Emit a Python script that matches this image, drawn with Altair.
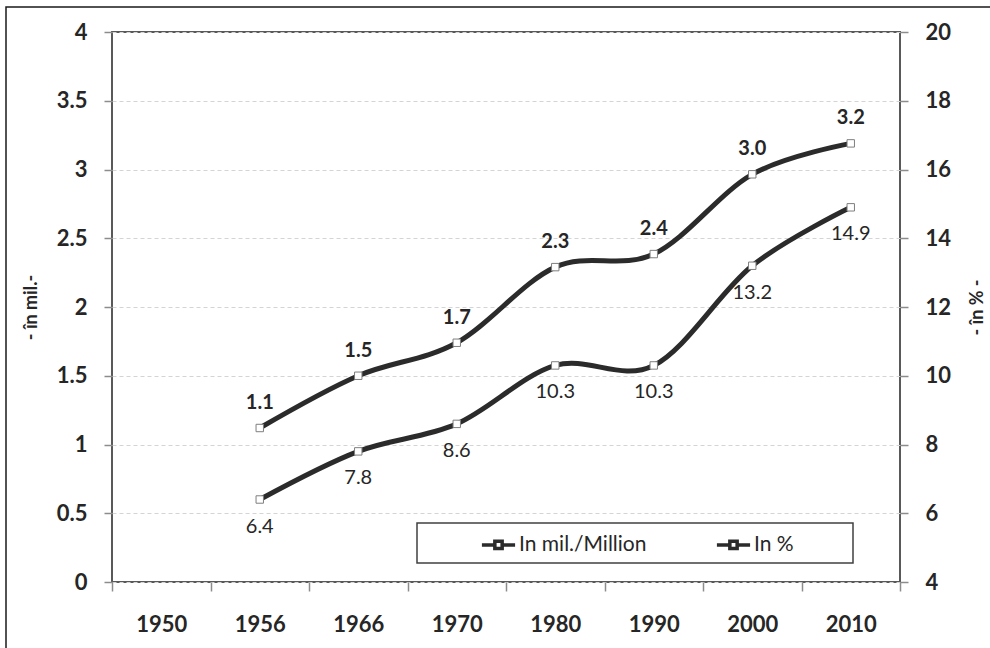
import altair as alt
import pandas as pd

# ---- data ----
years_all = ["1950", "1956", "1966", "1970", "1980", "1990", "2000", "2010"]
years = ["1956", "1966", "1970", "1980", "1990", "2000", "2010"]
mil_values = [1.12, 1.50, 1.74, 2.29, 2.385, 2.965, 3.19]
pct_values = [6.4, 7.8, 8.6, 10.3, 10.3, 13.2, 14.9]
series_names = ["In mil./Million", "In %"]
mil_ticks = [0, 0.5, 1, 1.5, 2, 2.5, 3, 3.5, 4]
pct_ticks = [4, 6, 8, 10, 12, 14, 16, 18, 20]

df_mil = pd.DataFrame({"year": years, "value": mil_values, "series": series_names[0]})
df_pct = pd.DataFrame({"year": years, "value": pct_values, "series": series_names[1]})

FONT = "Lato"
INK = "#262626"
LINE = "#2b2b2b"

x_enc = alt.X(
    "year:O",
    scale=alt.Scale(type="band", domain=years_all, paddingInner=0, paddingOuter=0),
    axis=alt.Axis(
        title=None, labelAngle=0, tickBand="extent", grid=False, domain=False,
        tickSize=9, tickColor="#8c8c8c", tickWidth=1.5, labelPadding=23,
        labelFontSize=22, labelFontWeight="bold",
    ),
)

y_mil_enc = alt.Y(
    "value:Q", scale=alt.Scale(domain=[0, 4], nice=False, zero=False),
    axis=alt.Axis(
        orient="left", title="- în mil.-", values=mil_ticks, format=".1~f",
        grid=True, gridDash=[4, 3], gridColor="#d4d4d4", gridWidth=1,
        domain=False, tickSize=8, tickColor="#8c8c8c", tickWidth=1.5,
        labelPadding=17, labelFontSize=22, labelFontWeight="bold",
        titleFontSize=18, titleFontWeight="bold", titlePadding=16,
    ),
)
y_pct_enc = alt.Y(
    "value:Q", scale=alt.Scale(domain=[4, 20], nice=False, zero=False),
    axis=alt.Axis(
        orient="right", title="- în % -", values=pct_ticks,
        grid=False, domain=False, tickSize=8, tickColor="#8c8c8c", tickWidth=1.5,
        labelPadding=17, labelFontSize=22, labelFontWeight="bold",
        titleFontSize=18, titleFontWeight="bold", titlePadding=36, titleAngle=270,
    ),
)

legend_symbol = "M-1,0H-0.24M0.24,0H1M-0.22,-0.22H0.22V0.22H-0.22Z"

color_enc = alt.Color(
    "series:N",
    scale=alt.Scale(domain=series_names, range=[LINE, LINE]),
    legend=alt.Legend(
        title=None, orient="none", legendX=368, legendY=494, direction="horizontal",
        symbolType=legend_symbol, symbolSize=1100, symbolStrokeWidth=3.5,
        symbolFillColor="white", labelOffset=2,
        labelFont=FONT, labelFontSize=21, labelColor=INK, columnPadding=62,
        padding=0,
    ),
)

point_style = dict(shape="square", filled=True, fill="white", stroke="#7f7f7f",
                   strokeWidth=1, size=55, opacity=1)

# mil series (left axis)
line_mil = alt.Chart(df_mil).mark_line(interpolate="cardinal", strokeWidth=5).encode(
    x=x_enc, y=y_mil_enc, color=color_enc)
pts_mil = alt.Chart(df_mil).mark_point(**point_style).encode(x=x_enc, y=y_mil_enc)
txt_mil = alt.Chart(df_mil).mark_text(
    dy=-25, font=FONT, fontSize=20, fontWeight="bold", color=INK
).encode(x=x_enc, y=y_mil_enc, text=alt.Text("value:Q", format=".1f"))

# percent series (right axis)
line_pct = alt.Chart(df_pct).mark_line(interpolate="cardinal", strokeWidth=5).encode(
    x=x_enc, y=y_pct_enc, color=color_enc)
pts_pct = alt.Chart(df_pct).mark_point(**point_style).encode(x=x_enc, y=y_pct_enc)
txt_pct = alt.Chart(df_pct).mark_text(
    dy=27, font=FONT, fontSize=20, color=INK
).encode(x=x_enc, y=y_pct_enc, text=alt.Text("value:Q", format=".1f"))

# decorations: outer frame of the figure and the legend's box
deco = alt.Data(values=[{"f": 1}])
frame = alt.Chart(deco).mark_rect(
    fillOpacity=0, stroke="#1a1a1a", strokeWidth=1.5
).encode(x=alt.value(-106), x2=alt.value(960), y=alt.value(-25), y2=alt.value(680))
legend_box = alt.Chart(deco).mark_rect(
    fill="white", stroke="#404040", strokeWidth=1.5
).encode(x=alt.value(305), x2=alt.value(741), y=alt.value(491), y2=alt.value(531))

chart = alt.layer(
    frame,
    legend_box,
    alt.layer(line_mil, pts_mil, txt_mil),
    alt.layer(line_pct, pts_pct, txt_pct),
).resolve_scale(y="independent").properties(
    width=788, height=550,
    autosize=alt.AutoSizeParams(type="none"),
    padding={"left": 112, "top": 32, "right": 90, "bottom": 66},
    background="white",
).configure_view(
    stroke="#595959", strokeWidth=2
).configure_axis(
    labelFont=FONT, titleFont=FONT, labelColor=INK, titleColor=INK
)

chart.save("out.html", embed_options={"renderer": "svg", "actions": False})
